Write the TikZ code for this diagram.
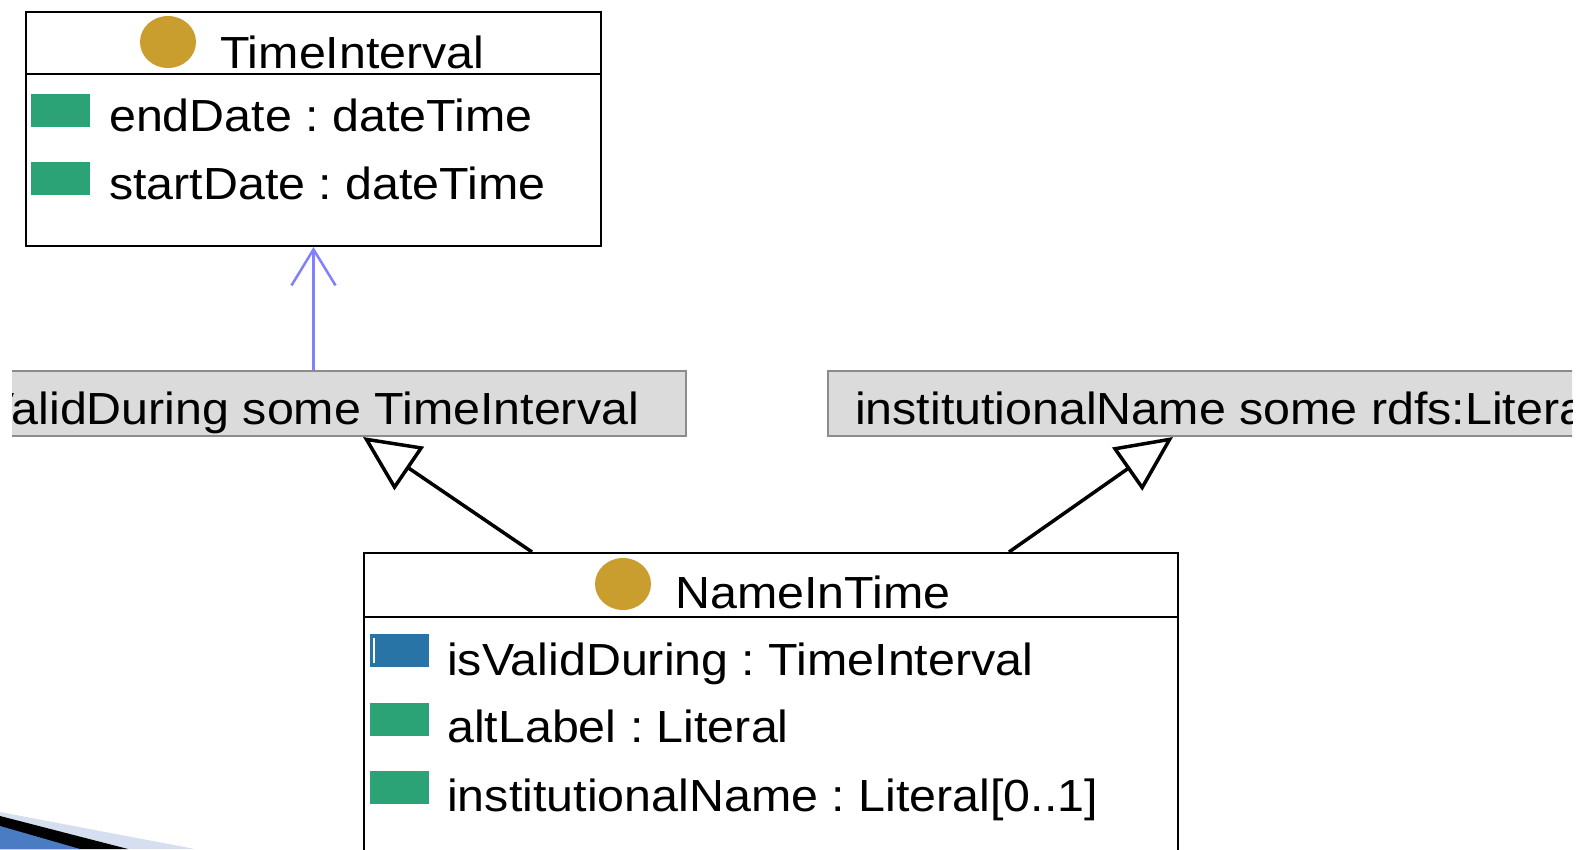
\documentclass[tikz,border=0pt]{standalone}
\usepackage{fontspec}
\setmainfont{Liberation Sans}[FakeStretch=1.075]
\usetikzlibrary{arrows.meta,shapes.geometric,calc}

\definecolor{clsgold}{RGB}{201,158,46}
\definecolor{datagreen}{RGB}{43,163,118}
\definecolor{objblue}{RGB}{40,116,166}
\definecolor{someblue}{RGB}{128,128,255}
\definecolor{slideblue}{RGB}{74,124,196}
\definecolor{slidelight}{RGB}{213,223,240}
\newcommand\umlfont{\fontsize{45}{52}\selectfont}
\frenchspacing

\tikzset{
  classbox/.style={draw=black, line width=2pt, fill=white, anchor=north west, inner sep=0pt},
  restrbox/.style={draw=black!45, line width=2pt, fill=black!14, minimum height=65pt,
    inner ysep=0pt, text height=53pt, text depth=12pt, font=\umlfont},
  clsicon/.style={ellipse, fill=clsgold, minimum width=56pt, minimum height=52pt, inner sep=0pt},
  dataicon/.style={rectangle, fill=datagreen, minimum width=59pt, minimum height=33pt,
    inner sep=0pt, anchor=north west},
  objicon/.style={dataicon, fill=objblue},
  attr/.style={anchor=base west, inner sep=0pt, font=\umlfont},
  genarrow/.style={-{Triangle[open, length=56pt, width=52pt]}, line width=3.5pt},
  somearrow/.style={-{Straight Barb[length=36pt, width=44pt]}, draw=someblue, line width=2.5pt}
}

\begin{document}
\begin{tikzpicture}[x=1pt, y=-1pt]
  \useasboundingbox (0,0) rectangle (1584,849);
  \clip (0,0) rectangle (1584,849);

  % Clase TimeInterval
  \node[classbox, minimum width=575pt, minimum height=234pt] (timeint) at (25,11) {};
  \draw[line width=2pt] ([yshift=-63pt]timeint.north west) -- ([yshift=-63pt]timeint.north east);
  \node[clsicon] (timeicon) at (168,42) {};
  \node[attr] (timetitle) at (220,68) {TimeInterval};
  \node[dataicon] (endicon) at (31,94) {};
  \node[attr] (endattr) at (109,131) {endDate : dateTime};
  \node[dataicon] (starticon) at (31,162) {};
  \node[attr] (startattr) at (109,199) {startDate : dateTime};

  % Restricciones (recortadas en los bordes)
  \begin{scope}
    \clip (12,0) rectangle (1572,849);
    \node[restrbox, anchor=north east, inner xsep=47pt] (validrestr) at (687,370)
      {isValidDuring some TimeInterval};
    \node[restrbox, anchor=north west, inner xsep=27pt] (instrestr) at (827,370)
      {institutionalName some rdfs:Literal};
  \end{scope}

  % Clase NameInTime
  \node[classbox, minimum width=814pt, minimum height=400pt] (nameintime) at (363,552) {};
  \draw[line width=2pt] ([yshift=-65pt]nameintime.north west) -- ([yshift=-65pt]nameintime.north east);
  \node[clsicon] (nameicon) at (623,584) {};
  \node[attr] (nametitle) at (675,608) {NameInTime};
  \node[objicon] (validicon) at (370,634) {};
  \draw[white, line width=1.5pt] ([xshift=4pt,yshift=-4pt]validicon.north west)
    -- ([xshift=4pt,yshift=4pt]validicon.south west);
  \node[attr] (validattr) at (447,675) {isValidDuring : TimeInterval};
  \node[dataicon] (alticon) at (370,703) {};
  \node[attr] (altattr) at (447,742) {altLabel : Literal};
  \node[dataicon] (insticon) at (370,771) {};
  \node[attr] (instattr) at (447,811) {institutionalName : Literal[0..1]};

  % Extremos de las flechas
  \coordinate (genLfrom) at ($(nameintime.north west)+(169,0)$);
  \coordinate (genLto) at ($(validrestr.south east)+(-324,0)$);
  \coordinate (genRfrom) at ($(nameintime.north east)+(-170,0)$);
  \coordinate (genRto) at ($(instrestr.south west)+(346,0)$);

  % Flechas
  \draw[somearrow] (validrestr.north -| timeint.south) -- (timeint.south);
  \draw[genarrow] (genLfrom) -- (genLto);
  \draw[genarrow] (genRfrom) -- (genRto);

  % Vineta de la diapositiva
  \fill[slidelight] (0,812) -- (195,849) -- (0,849) -- cycle;
  \fill[black] (0,816) -- (128,849) -- (0,849) -- cycle;
  \fill[slideblue] (0,826) -- (80,849) -- (0,849) -- cycle;
\end{tikzpicture}
\end{document}
